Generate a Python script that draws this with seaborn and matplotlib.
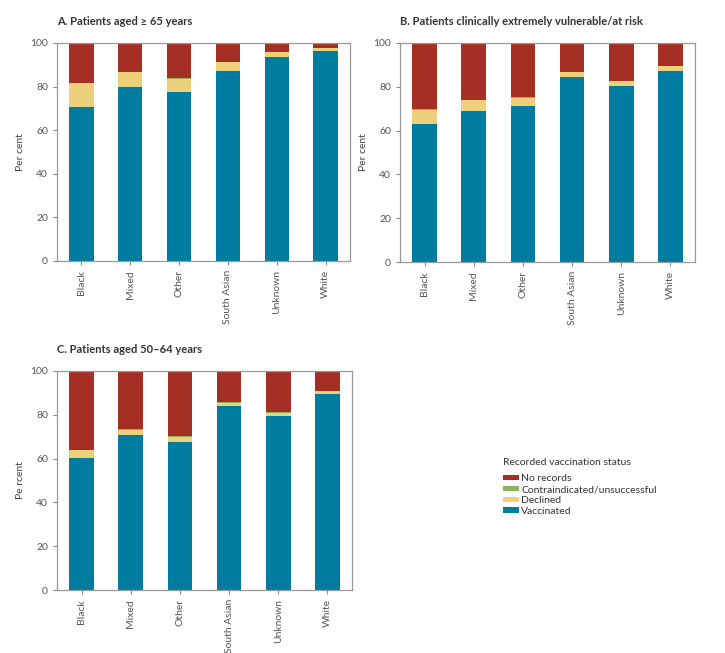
import matplotlib
matplotlib.use("Agg")
import matplotlib.pyplot as plt
import seaborn as sns
import numpy as np
import pandas as pd
from matplotlib.patches import Patch

groups = ["Black", "Mixed", "Other", "South Asian", "Unknown", "White"]

# A. aged >= 65
a_vacc = [70.5, 79.8, 77.4, 87.3, 93.7, 96.2]
a_decl = [11.1, 6.7, 6.3, 3.8, 2.0, 1.3]
a_contra = [0.15, 0.15, 0.15, 0.15, 0.15, 0.15]

# B. clinically extremely vulnerable / at risk
b_vacc = [63.0, 68.9, 71.3, 84.5, 80.2, 87.0]
b_decl = [6.5, 5.1, 3.8, 2.3, 2.4, 2.3]
b_contra = [0.15, 0.15, 0.15, 0.15, 0.15, 0.15]

# C. aged 50-64
c_vacc = [60.2, 70.7, 67.8, 83.9, 79.5, 89.7]
c_decl = [3.6, 2.5, 2.2, 1.6, 1.5, 1.1]
c_contra = [0.15, 0.15, 0.15, 0.15, 0.15, 0.15]

statuses = ["No records", "Contraindicated/unsuccessful", "Declined", "Vaccinated"]
colors = {"No records": "#A52F24", "Contraindicated/unsuccessful": "#8DB35E",
          "Declined": "#EDD07A", "Vaccinated": "#007CA0"}

plt.rcParams["font.family"] = ["Lato", "DejaVu Sans"]
fig = plt.figure(figsize=(7.25, 6.53), dpi=100)


def stacked(ax, vacc, decl, contra, title, ylabel="Per cent"):
    vacc = np.array(vacc); decl = np.array(decl); contra = np.array(contra)
    no_rec = 100 - vacc - decl - contra
    df = pd.DataFrame({"group": groups, "Vaccinated": vacc, "Declined": decl,
                       "Contraindicated/unsuccessful": contra, "No records": no_rec})
    # cumulative tops, drawn from the tallest down
    tops = {
        "No records": df["Vaccinated"] + df["Declined"] + df["Contraindicated/unsuccessful"] + df["No records"],
        "Contraindicated/unsuccessful": df["Vaccinated"] + df["Declined"] + df["Contraindicated/unsuccessful"],
        "Declined": df["Vaccinated"] + df["Declined"],
        "Vaccinated": df["Vaccinated"],
    }
    for s in statuses:
        sns.barplot(x=df["group"], y=tops[s], color=colors[s], width=0.5,
                    saturation=1, ax=ax, errorbar=None)
    ax.set_ylim(0, 100)
    ax.set_yticks(range(0, 101, 20))
    ax.set_xlabel("")
    ax.set_ylabel(ylabel, fontsize=7.5, color="#444444", labelpad=4)
    ax.tick_params(axis="x", labelrotation=90, labelsize=7.5, colors="#888888",
                   labelcolor="#555555", length=3)
    ax.tick_params(axis="y", labelsize=7.5, colors="#888888", labelcolor="#555555", length=3)
    for sp in ax.spines.values():
        sp.set_color("#999999")
        sp.set_linewidth(0.9)
    ax.text(0, 1.075, title, transform=ax.transAxes, fontsize=8,
            fontweight="bold", color="#333333", ha="left", va="bottom")


W, H = 725, 653
def px_axes(l, t, r, b):
    return fig.add_axes([l / W, 1 - b / H, (r - l) / W, (b - t) / H])

axA = px_axes(57, 43, 350, 261)
axB = px_axes(400, 43, 695, 262)
axC = px_axes(57, 371, 352, 590)

stacked(axA, a_vacc, a_decl, a_contra, "A. Patients aged \u2265 65 years")
stacked(axB, b_vacc, b_decl, b_contra, "B. Patients clinically extremely vulnerable/at risk")
stacked(axC, c_vacc, c_decl, c_contra, "C. Patients aged 50\u201364 years", ylabel="Pe rcent")

handles = [Patch(facecolor=colors[s], edgecolor="none") for s in statuses]
leg = fig.legend(handles, statuses, title="Recorded vaccination status",
                 loc="upper left", bbox_to_anchor=(494 / W, 1 - 449 / H),
                 frameon=False, fontsize=7.5, title_fontsize=7.5,
                 handlelength=1.5, handleheight=0.45, handletextpad=0.2,
                 labelspacing=0.18, alignment="left")
leg._legend_box.sep = 5
leg.get_title().set_color("#333333")
for t in leg.get_texts():
    t.set_color("#333333")

fig.savefig("out.png", dpi=100, facecolor="white")
